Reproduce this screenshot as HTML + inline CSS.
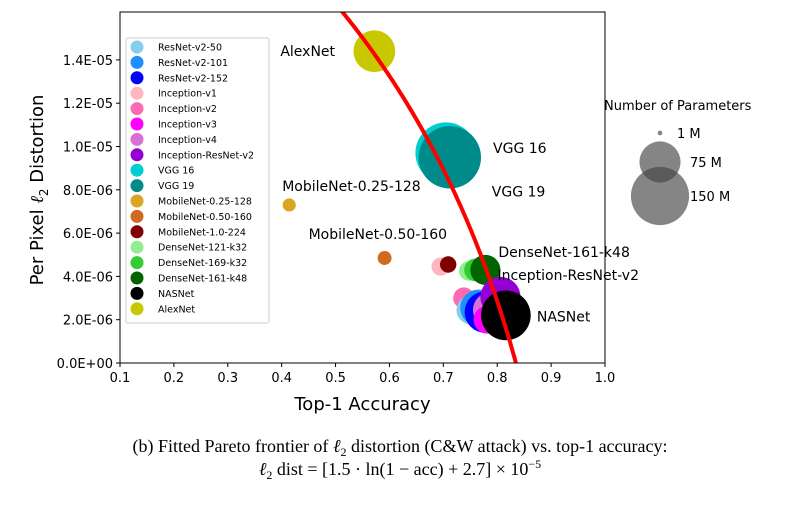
<!DOCTYPE html>
<html><head><meta charset="utf-8"><style>
body{margin:0;background:#fff;width:800px;height:500px;overflow:hidden}
svg text{font-family:"DejaVu Sans","Liberation Sans",sans-serif}
.cap{font-family:"Liberation Serif",serif;font-size:18px;fill:#000}
</style></head><body>
<svg id="chart" width="800" height="500"></svg>
<script>
const names=["ResNet-v2-50","ResNet-v2-101","ResNet-v2-152","Inception-v1","Inception-v2","Inception-v3","Inception-v4","Inception-ResNet-v2","VGG 16","VGG 19","MobileNet-0.25-128","MobileNet-0.50-160","MobileNet-1.0-224","DenseNet-121-k32","DenseNet-169-k32","DenseNet-161-k48","NASNet","AlexNet"];
const colors=["#87ceeb","#1e90ff","#0000ff","#ffb6c1","#ff69b4","#ff00ff","#da70d6","#9400d3","#00ced1","#008b8b","#daa520","#d2691e","#800000","#90ee90","#32cd32","#006400","#000000","#c8c800"];
const accuracy=[0.751,0.765,0.778,0.695,0.738,0.782,0.788,0.806,0.705,0.712,0.414,0.591,0.709,0.747,0.760,0.778,0.816,0.572];
const distortion=[2.45,2.55,2.35,4.45,3.0,2.0,2.45,3.05,9.7,9.5,7.3,4.85,4.55,4.25,4.3,4.3,2.2,14.4];
const params=[25.6,44.5,60.2,6.6,11.2,23.8,42.7,55.8,138,143.7,0.47,1.3,4.2,8,14,28.7,88.9,61];
const drawOrder=[10,11,3,12,13,14,15,4,0,1,2,6,5,7,8,9,16,17];
const annotations=[["AlexNet",17,-94,0],["VGG 16",8,47,-5],["VGG 19",9,42,34],["MobileNet-0.25-128",10,-7,-19],["MobileNet-0.50-160",11,-76,-24],["DenseNet-161-k48",15,13,-18],["Inception-ResNet-v2",7,-3,-22],["NASNet",16,31,1]];
const yTicks=[0,2,4,6,8,10,12,14];
const yTickLabels=["0.0E+00","2.0E-06","4.0E-06","6.0E-06","8.0E-06","1.0E-05","1.2E-05","1.4E-05"];
const xTicks=[0.1,0.2,0.3,0.4,0.5,0.6,0.7,0.8,0.9,1.0];
const sizeLegend=[1,75,150];
const L=120,R=605,T=12,B=363;
const xs=a=>L+(a-0.1)/0.9*(R-L);
const ys=d=>B-d*21.65;
const rad=p=>Math.sqrt(40+6.5*p);
const lrad=p=>Math.max(2.5,Math.sqrt(p)*2.5);
const svg=document.getElementById('chart');
const NS='http://www.w3.org/2000/svg';
function mk(tag,attrs,parent){const e=document.createElementNS(NS,tag);for(const k in attrs)e.setAttribute(k,attrs[k]);(parent||svg).appendChild(e);return e;}
function txt(s,attrs,parent){const e=mk('text',attrs,parent);e.textContent=s;return e;}
const defs=mk('defs',{});const cp=mk('clipPath',{id:'clip'},defs);mk('rect',{x:L,y:T,width:R-L,height:B-T},cp);
const plot=mk('g',{'clip-path':'url(#clip)'});

drawOrder.forEach(i=>{const c=mk('circle',{cx:xs(accuracy[i]),cy:ys(distortion[i]),r:rad(params[i]),fill:colors[i]},plot);

});
let d='';for(let a=0.4;a<=0.86;a+=0.002){const v=(1.5*Math.log(1-a)+2.7)*10;d+=(d?'L':'M')+xs(a).toFixed(1)+','+ys(v).toFixed(1);}
const curve=mk('path',{d:d,stroke:'#ff0000','stroke-width':4,fill:'none'},plot);

annotations.forEach(([s,i,dx,dy])=>{const t=txt(s,{x:xs(accuracy[i])+dx,y:ys(distortion[i])+dy+5,'font-size':14});
});
const frame=mk('rect',{x:L,y:T,width:R-L,height:B-T,fill:'none',stroke:'#000','stroke-width':1});

yTicks.forEach((v,k)=>{mk('line',{x1:L-4,x2:L,y1:ys(v),y2:ys(v),stroke:'#000'});
const t=txt(yTickLabels[k],{x:L-7,y:ys(v)+5,'font-size':13,'text-anchor':'end'});});
xTicks.forEach(v=>{mk('line',{x1:xs(v),x2:xs(v),y1:B,y2:B+4,stroke:'#000'});
const t=txt(v.toFixed(1),{x:xs(v),y:B+19,'font-size':13,'text-anchor':'middle'});});
const xl=txt('Top-1 Accuracy',{x:(L+R)/2,y:410,'font-size':18,'text-anchor':'middle'});
const yl=mk('text',{transform:'translate(43,190) rotate(-90)','font-size':18,'text-anchor':'middle'});
yl.innerHTML='Per Pixel <tspan font-style="italic" font-family="Liberation Serif">ℓ</tspan><tspan font-size="12" dy="5">2</tspan><tspan dy="-5"> Distortion</tspan>';

const lg=mk('g',{});
mk('rect',{x:126,y:38,width:143,height:285,fill:'#fff',stroke:'#ccc',rx:2},lg);
names.forEach((n,i)=>{const y=47+i*15.4;
const c=mk('circle',{cx:137,cy:y,r:6.5,fill:colors[i]},lg);
const t=txt(n,{x:158,y:y+3.5,'font-size':9.5},lg);});
const sl=mk('g',{});
txt('Number of Parameters',{x:604,y:110,'font-size':13},sl);
const sy=[133,162,196];
sizeLegend.forEach((p,k)=>{const c=mk('circle',{cx:660,cy:sy[k],r:lrad(p)*0.95,fill:'#444','fill-opacity':0.65},sl);
txt(p+' M',{x:p==1?677:690,y:sy[k]+5,'font-size':13},sl);});
const c1=txt('',{x:400,y:452,'text-anchor':'middle',class:'cap'});
c1.innerHTML='(b) Fitted Pareto frontier of <tspan font-style="italic">ℓ</tspan><tspan font-size="12" dy="4">2</tspan><tspan dy="-4"> distortion (C&amp;W attack) vs. top-1 accuracy:</tspan>';

const c2=txt('',{x:400,y:475,'text-anchor':'middle',class:'cap'});
c2.innerHTML='<tspan font-style="italic">ℓ</tspan><tspan font-size="12" dy="4">2</tspan><tspan dy="-4"> dist = [1.5 · ln(1 − acc) + 2.7] × 10</tspan><tspan font-size="12" dy="-7">−5</tspan>';

</script>
</body></html>
